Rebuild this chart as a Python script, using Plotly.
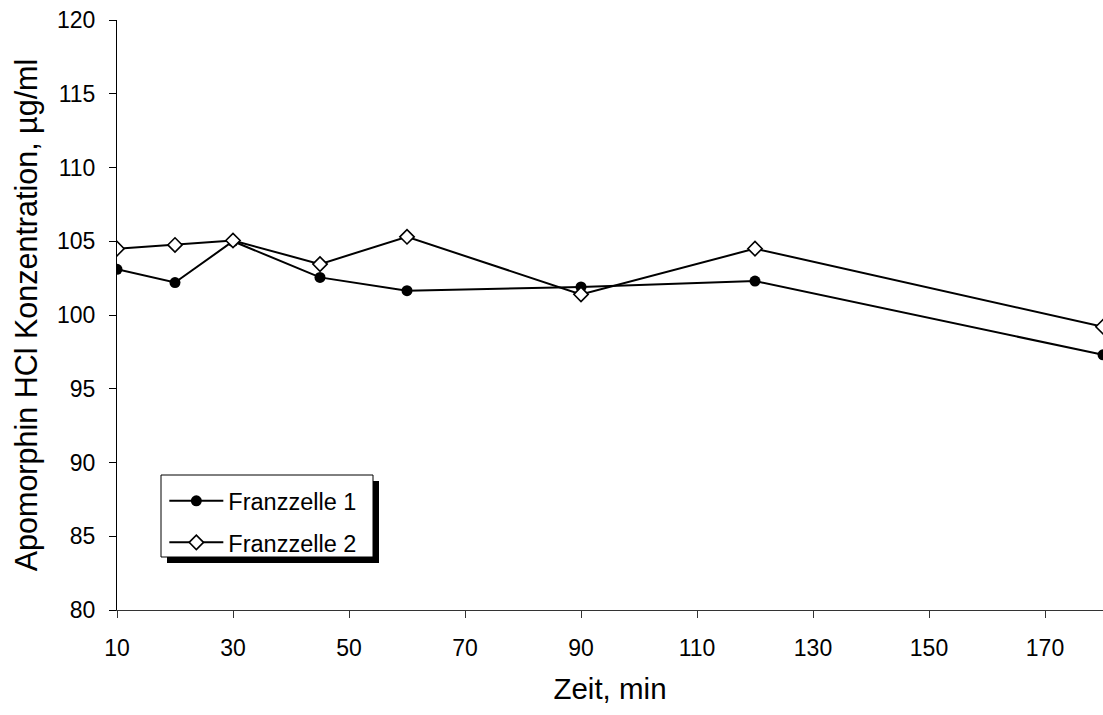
import plotly.graph_objects as go

zeit = [10, 20, 30, 45, 60, 90, 120, 180]
franzzelle_1 = [103.1, 102.2, 105.0, 102.55, 101.65, 101.9, 102.3, 97.3]
franzzelle_2 = [104.5, 104.75, 105.05, 103.45, 105.3, 101.4, 104.5, 99.2]
x_ticks = [10, 30, 50, 70, 90, 110, 130, 150, 170]
y_ticks = [80, 85, 90, 95, 100, 105, 110, 115, 120]

FONT = "Liberation Sans, Arial, sans-serif"

fig = go.Figure()
fig.add_trace(go.Scatter(
    x=zeit, y=franzzelle_1, mode="lines+markers", name="Franzzelle 1",
    legendgroup="a",
    line=dict(color="black", width=2),
    marker=dict(symbol="circle", size=11, color="black"),
))
fig.add_trace(go.Scatter(
    x=zeit, y=franzzelle_2, mode="lines+markers", name="Franzzelle 2",
    legendgroup="b",
    line=dict(color="black", width=2),
    marker=dict(symbol="diamond", size=11, color="white",
                line=dict(color="black", width=1.6)),
))

fig.update_layout(
    width=1103, height=715,
    margin=dict(l=117, r=0, t=20, b=105),
    paper_bgcolor="white", plot_bgcolor="white",
    font=dict(family=FONT, color="black"),
    showlegend=True,
    legend=dict(
        x=0.048, y=0.222, xanchor="left", yanchor="top",
        bgcolor="rgba(0,0,0,0)", borderwidth=0,
        font=dict(family=FONT, size=23.5, color="black"),
        itemwidth=54, tracegroupgap=8,
    ),
    xaxis=dict(
        range=[10, 180], tickvals=x_ticks, ticktext=[str(v) for v in x_ticks],
        showline=True, linecolor="#333333", linewidth=1,
        ticks="outside", ticklen=7, tickcolor="#333333",
        showgrid=False, zeroline=False,
        tickfont=dict(family=FONT, size=23),
        ticklabelstandoff=10,
        title=dict(text="Zeit, min", font=dict(family=FONT, size=29.5), standoff=18),
    ),
    yaxis=dict(
        range=[80, 120], tickvals=y_ticks, ticktext=[str(v) for v in y_ticks],
        showline=True, linecolor="black", linewidth=1,
        ticks="outside", ticklen=7, tickcolor="black",
        showgrid=False, zeroline=False,
        tickfont=dict(family=FONT, size=23),
        ticklabelstandoff=9,
        title=dict(text="Apomorphin HCl Konzentration, µg/ml",
                   font=dict(family=FONT, size=30.5), standoff=10),
    ),
    shapes=[
        dict(type="rect", xref="paper", yref="paper",
             x0=(167 - 117) / 986, x1=(379 - 117) / 986,
             y0=(610 - 563) / 590, y1=(610 - 481) / 590,
             fillcolor="black", line=dict(width=0), layer="above"),
        dict(type="rect", xref="paper", yref="paper",
             x0=(161 - 117) / 986, x1=(373 - 117) / 986,
             y0=(610 - 557) / 590, y1=(610 - 475) / 590,
             fillcolor="white", line=dict(color="black", width=1), layer="above"),
    ],
)

fig.write_html(
    "out.html",
    config={"displayModeBar": False},
    post_script="document.body.style.margin='0';document.body.style.overflow='hidden';",
)
